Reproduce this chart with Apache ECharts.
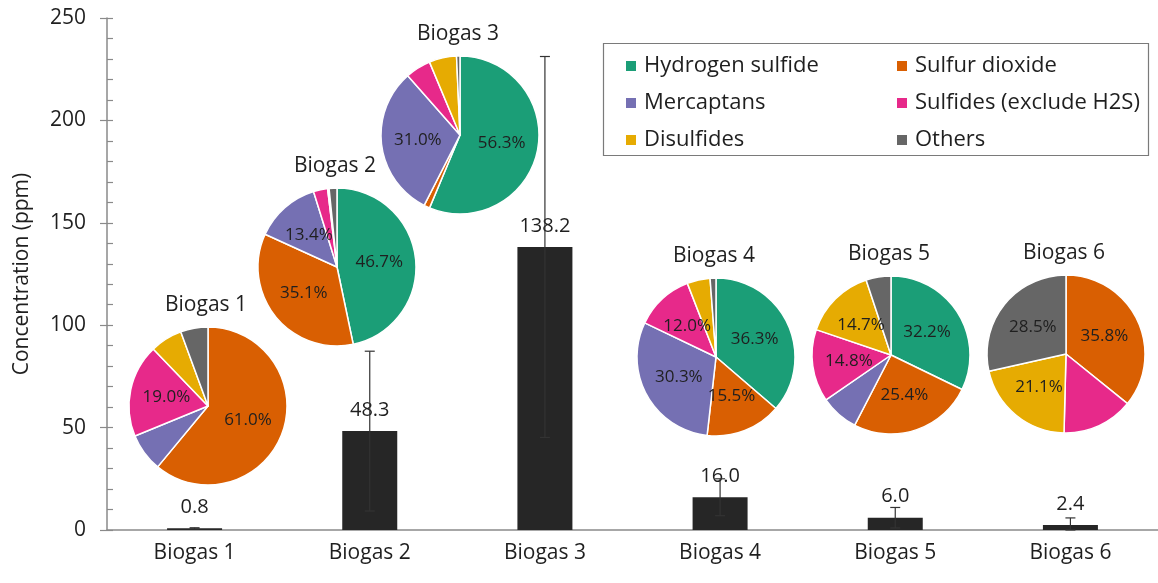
<!DOCTYPE html>
<html>
<head>
<meta charset="utf-8">
<title>Sulfur compounds in biogas</title>
<script src="https://cdn.jsdelivr.net/npm/echarts@6/dist/echarts.min.js"></script>
<style>
  html, body { margin: 0; padding: 0; background: #fff; }
  #chart { width: 1158px; height: 583px; }
</style>
</head>
<body>
<div id="chart"></div>
<script>
// Total sulfur concentration per biogas sample (ppm) and its spread
const categories = ['Biogas 1', 'Biogas 2', 'Biogas 3', 'Biogas 4', 'Biogas 5', 'Biogas 6'];
const concentration = [0.8, 48.3, 138.2, 16.0, 6.0, 2.4];
const concentrationError = [0.3, 39, 93, 9, 5, 3.5];
const yTicks = [0, 50, 100, 150, 200, 250];

// Composition of the sulfur species in each sample (% of total)
const componentNames = ['Hydrogen sulfide', 'Sulfur dioxide', 'Mercaptans', 'Sulfides (exclude H2S)', 'Disulfides', 'Others'];
const shareBiogas1 = [0, 61.0, 7.8, 19.0, 6.6, 5.6];
const shareBiogas2 = [46.7, 35.1, 13.4, 2.9, 0.3, 1.6];
const shareBiogas3 = [56.3, 1.2, 31.0, 5.2, 5.6, 0.7];
const shareBiogas4 = [36.3, 15.5, 30.3, 12.0, 4.7, 1.2];
const shareBiogas5 = [32.2, 25.4, 7.8, 14.8, 14.7, 5.1];
const shareBiogas6 = [0, 35.8, 0, 14.6, 21.1, 28.5];
const shares = [shareBiogas1, shareBiogas2, shareBiogas3, shareBiogas4, shareBiogas5, shareBiogas6];

// Layout and styling
const FONT = '"Open Sans", "Noto Sans", sans-serif';
const TEXT = '#1f1f1f';
const AXIS = '#8a8a8a';
const componentColors = ['#1B9E77', '#D95F02', '#7570B3', '#E7298A', '#E6AB02', '#666666'];
const pieCenters = [[208, 406], [337, 267], [460, 135], [716, 357], [891, 355], [1066, 354]];
const pieRadius = 79;
const pieTitleLift = 101;

const chart = echarts.init(document.getElementById('chart'), null, { renderer: 'canvas' });

const pieSeries = shares.map((row, i) => ({
  type: 'pie',
  name: categories[i],
  center: pieCenters[i],
  radius: pieRadius,
  startAngle: 90,
  clockwise: true,
  z: 5,
  silent: true,
  itemStyle: { borderColor: '#fff', borderWidth: 1.5 },
  label: {
    show: true,
    position: 'inside',
    fontFamily: FONT,
    fontSize: 17,
    color: TEXT,
    formatter: p => (p.value >= 10 ? p.value.toFixed(1) + '%' : '')
  },
  labelLine: { show: false },
  emphasis: { disabled: true },
  data: row
    .map((v, j) => ({ name: componentNames[j], value: v, itemStyle: { color: componentColors[j] } }))
    .filter(d => d.value > 0)
}));

const pieTitles = categories.map((c, i) => ({
  type: 'text',
  x: pieCenters[i][0] - 2,
  y: pieCenters[i][1] - pieTitleLift,
  z: 10,
  style: {
    text: c,
    font: '21px ' + FONT,
    fill: TEXT,
    textAlign: 'center',
    textVerticalAlign: 'middle'
  }
}));

const legendCommon = {
  orient: 'vertical',
  icon: 'rect',
  itemWidth: 12,
  itemHeight: 12,
  itemGap: 15,
  top: 50,
  selectedMode: false,
  textStyle: { fontFamily: FONT, fontSize: 22, color: TEXT, lineHeight: 22, padding: [0, 0, 0, 2] }
};

const option = {
  backgroundColor: '#fff',
  animation: false,
  color: componentColors,
  grid: { left: 107, right: 0, top: 18, bottom: 53, containLabel: false },
  legend: [
    Object.assign({}, legendCommon, { left: 619, data: [componentNames[0], componentNames[2], componentNames[4]] }),
    Object.assign({}, legendCommon, { left: 890, data: [componentNames[1], componentNames[3], componentNames[5]] })
  ],
  xAxis: {
    type: 'category',
    data: categories,
    axisLine: { lineStyle: { color: AXIS, width: 1.5 } },
    axisTick: { show: false },
    axisLabel: { fontFamily: FONT, fontSize: 21, color: TEXT, margin: 13 }
  },
  yAxis: [
    {
      type: 'value',
      min: yTicks[0],
      max: yTicks[yTicks.length - 1],
      interval: yTicks[1] - yTicks[0],
      name: 'Concentration (ppm)',
      nameLocation: 'middle',
      nameGap: 74,
      nameTextStyle: { fontFamily: FONT, fontSize: 21, color: TEXT },
      axisLine: { show: true, lineStyle: { color: AXIS, width: 1.5 } },
      axisTick: { show: true, length: 7, lineStyle: { color: AXIS, width: 1.2 } },
      axisLabel: { fontFamily: FONT, fontSize: 21, color: TEXT, margin: 21 },
      splitLine: { show: false }
    },
    {
      type: 'value',
      min: yTicks[0],
      max: yTicks[yTicks.length - 1],
      interval: 10,
      position: 'left',
      axisLine: { show: false },
      axisTick: { show: true, inside: true, length: 6, lineStyle: { color: AXIS, width: 1.2 } },
      axisLabel: { show: false },
      splitLine: { show: false }
    }
  ],
  graphic: [
    {
      type: 'rect',
      shape: { x: 603.5, y: 43.5, width: 545, height: 112 },
      style: { fill: 'none', stroke: '#7a7a7a', lineWidth: 1.2 },
      z: 1
    }
  ].concat(pieTitles),
  series: [
    {
      type: 'bar',
      name: 'Concentration',
      data: concentration,
      barWidth: 55,
      itemStyle: { color: '#262626' },
      z: 2,
      silent: true,
      label: {
        show: true,
        position: 'top',
        distance: 11,
        fontFamily: FONT,
        fontSize: 20,
        color: TEXT,
        formatter: p => p.value.toFixed(1)
      }
    },
    {
      type: 'custom',
      name: 'Error',
      z: 4,
      silent: true,
      data: concentration.map((v, i) => [i, Math.max(0, v - concentrationError[i]), v + concentrationError[i]]),
      renderItem: (params, api) => {
        const lo = api.coord([api.value(0), api.value(1)]);
        const hi = api.coord([api.value(0), api.value(2)]);
        const cap = 5;
        const style = { stroke: '#333', lineWidth: 1.2 };
        return {
          type: 'group',
          children: [
            { type: 'line', shape: { x1: hi[0], y1: hi[1], x2: lo[0], y2: lo[1] }, style },
            { type: 'line', shape: { x1: hi[0] - cap, y1: hi[1], x2: hi[0] + cap, y2: hi[1] }, style },
            { type: 'line', shape: { x1: lo[0] - cap, y1: lo[1], x2: lo[0] + cap, y2: lo[1] }, style }
          ]
        };
      }
    }
  ].concat(pieSeries)
};

chart.setOption(option);
</script>
</body>
</html>
